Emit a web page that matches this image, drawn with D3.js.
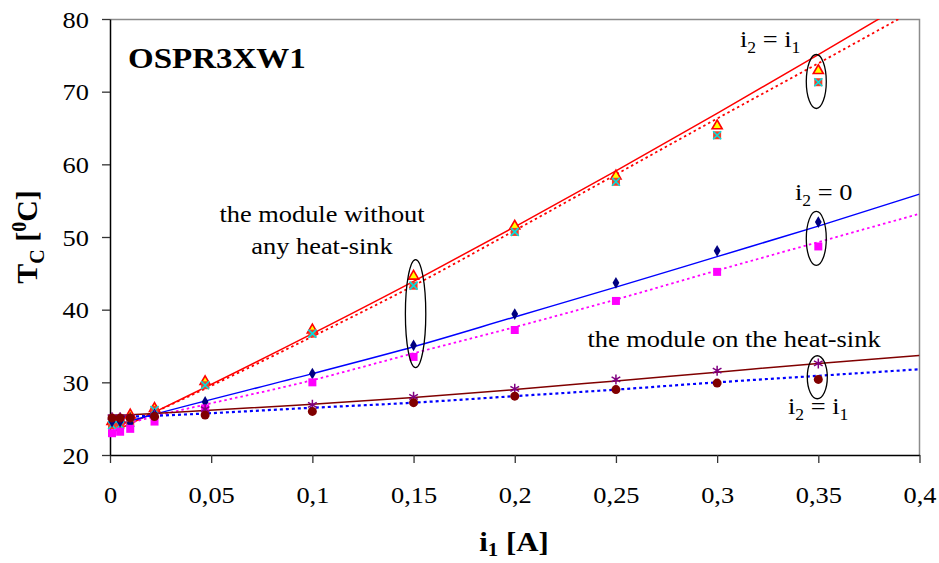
<!DOCTYPE html>
<html>
<head>
<meta charset="utf-8">
<script src="https://cdn.jsdelivr.net/npm/d3@7"></script>
<style>
  body { margin: 0; background: #fff; }
  svg { display: block; }
  text { font-family: "Liberation Serif", "Times New Roman", serif; fill: #000; }
</style>
</head>
<body>
<svg width="939" height="563"></svg>
<script>
// measured current i1 [A]
var current = [0.001, 0.005, 0.01, 0.022, 0.047, 0.1, 0.15, 0.2, 0.25, 0.3, 0.35];

// module without heat-sink, i2 = i1 (two measurements)
var freeEqA = [24.6, 24.8, 25.5, 26.4, 30.1, 37.2, 44.6, 51.5, 58.4, 65.3, 72.9];
var freeEqB = [24.1, 24.1, 24.4, 26.2, 29.6, 36.7, 43.3, 50.7, 57.6, 64.0, 71.3];
// module without heat-sink, i2 = 0
var freeZeroA = [24.6, 24.6, 24.4, 25.6, 27.3, 31.2, 35.1, 39.4, 43.7, 48.1, 52.05];
var freeZeroB = [23.0, 23.2, 23.6, 24.6, 26.4, 30.0, 33.5, 37.2, 41.2, 45.2, 48.7];
// module on the heat-sink, i2 = i1
var sinkEqA = [25.2, 25.2, 25.2, 25.5, 26.3, 26.9, 28.0, 29.1, 30.4, 31.6, 32.6];
var sinkEqB = [25.1, 25.1, 25.1, 25.3, 25.5, 26.0, 27.2, 28.1, 29.0, 29.9, 30.4];

// trend lines
var trendX = [0.001, 0.022, 0.1, 0.15, 0.2, 0.25, 0.3, 0.35, 0.4];
var trendFreeEqA = [23.1, 25.9, 36.7, 43.9, 51.4, 59.1, 67.0, 75.1, 83.3];
var trendFreeEqB = [23.3, 25.9, 36.3, 43.3, 50.9, 58.6, 66.3, 73.9, 81.6];
var trendFreeZeroA = [24.0, 25.6, 31.2, 34.9, 39.0, 43.1, 47.3, 51.5, 55.9];
var trendFreeZeroB = [23.8, 25.3, 30.3, 34.0, 37.6, 41.4, 45.4, 49.3, 53.2];
var trendSinkEqA = [25.4, 25.7, 27.0, 27.9, 29.0, 30.2, 31.4, 32.6, 33.7];
var trendSinkEqB = [25.2, 25.4, 26.5, 27.2, 28.1, 29.0, 30.0, 30.9, 31.8];

var xTicks = [0, 0.05, 0.1, 0.15, 0.2, 0.25, 0.3, 0.35, 0.4];
var xTickLabels = ["0", "0,05", "0,1", "0,15", "0,2", "0,25", "0,3", "0,35", "0,4"];
var yTicks = [20, 30, 40, 50, 60, 70, 80];

var margins = { top: 19, left: 110, right: 20, bottom: 108 };
var svg = d3.select("svg");
var chartWidth = 809.5;
var chartHeight = 436;
var stretch = 1.1; // text in the reference is slightly wider than tall

var xScale = d3.scaleLinear([0, 0.4], [0, chartWidth]);
var yScale = d3.scaleLinear([20, 80], [chartHeight, 0]);

var g = svg.append("g")
  .attr("transform", `translate(${margins.left},${margins.top})`);

g.append("clipPath").attr("id", "plot")
  .append("rect").attr("width", chartWidth).attr("height", chartHeight);

// frame (top and right in grey)
g.append("path")
  .attr("d", `M0,0.5H${chartWidth}V${chartHeight}`)
  .attr("fill", "none").attr("stroke", "#8c8c8c").attr("stroke-width", 1.5);

// axes
var xAxis = g.append("g")
  .attr("transform", `translate(0,${chartHeight})`)
  .call(d3.axisBottom(xScale).tickValues(xTicks).tickSize(8).tickSizeOuter(0)
    .tickFormat(function (d, i) { return xTickLabels[i]; }));
xAxis.select(".domain").attr("stroke-width", 1.5);
xAxis.selectAll(".tick line").attr("stroke", "#333").attr("stroke-width", 1.3);
xAxis.selectAll(".tick text")
  .attr("y", null).attr("dy", null)
  .attr("transform", `translate(0,48) scale(${stretch},1)`)
  .style("font-size", "24px");

var yAxis = g.append("g")
  .call(d3.axisLeft(yScale).tickValues(yTicks).tickSize(8).tickSizeOuter(0));
yAxis.select(".domain").attr("stroke-width", 1.5);
yAxis.selectAll(".tick line").attr("stroke", "#333").attr("stroke-width", 1.3);
yAxis.selectAll(".tick text")
  .attr("x", null).attr("dy", "0.34em")
  .attr("transform", `translate(-21,0) scale(${stretch},1)`)
  .style("font-size", "24px");

// trend lines
var line = d3.line()
  .x(function (d) { return xScale(d[0]); })
  .y(function (d) { return yScale(d[1]); })
  .curve(d3.curveMonotoneX);

var trends = [
  { values: trendFreeEqA, color: "#ff0000", dash: null, width: 1.5 },
  { values: trendFreeEqB, color: "#ff0000", dash: "2.5,3", width: 1.8 },
  { values: trendFreeZeroA, color: "#0000ff", dash: null, width: 1.5 },
  { values: trendFreeZeroB, color: "#ff00ff", dash: "2.5,3", width: 1.8 },
  { values: trendSinkEqA, color: "#800000", dash: null, width: 1.5 },
  { values: trendSinkEqB, color: "#0000ff", dash: "3,3", width: 2.2 }
];

var lines = g.append("g").attr("clip-path", "url(#plot)");
lines.selectAll("path").data(trends).join("path")
  .attr("d", function (t) { return line(trendX.map(function (x, i) { return [x, t.values[i]]; })); })
  .attr("fill", "none")
  .attr("stroke", function (t) { return t.color; })
  .attr("stroke-width", function (t) { return t.width; })
  .attr("stroke-dasharray", function (t) { return t.dash; });

// markers
function pts(values) {
  return current.map(function (x, i) { return [x, values[i]]; });
}
function place(d) {
  return `translate(${xScale(d[0])},${yScale(d[1])})`;
}

var marks = g.append("g");

marks.append("g").selectAll("path").data(pts(freeEqA)).join("path")
  .attr("transform", place)
  .attr("d", d3.symbol(d3.symbolTriangle, 44))
  .attr("fill", "#ffff00").attr("stroke", "#ff0000").attr("stroke-width", 1.6);

var sq = marks.append("g").selectAll("g").data(pts(freeEqB)).join("g")
  .attr("transform", place);
sq.append("rect").attr("x", -4).attr("y", -4).attr("width", 8).attr("height", 8)
  .attr("fill", "#f0402a");
sq.append("path").attr("d", "M-4,-4L4,4M-4,4L4,-4")
  .attr("stroke", "#00e0e0").attr("stroke-width", 1.6);

marks.append("g").selectAll("path").data(pts(freeZeroA)).join("path")
  .attr("transform", place)
  .attr("d", d3.symbol(d3.symbolDiamond, 40))
  .attr("fill", "#000080");

marks.append("g").selectAll("path").data(pts(freeZeroB)).join("path")
  .attr("transform", place)
  .attr("d", d3.symbol(d3.symbolSquare, 64))
  .attr("fill", "#ff00ff");

marks.append("g").selectAll("path").data(pts(sinkEqA)).join("path")
  .attr("transform", place)
  .attr("d", d3.symbol(d3.symbolAsterisk, 70))
  .attr("fill", "none").attr("stroke", "#800080").attr("stroke-width", 1.5);

marks.append("g").selectAll("circle").data(pts(sinkEqB)).join("circle")
  .attr("cx", function (d) { return xScale(d[0]); })
  .attr("cy", function (d) { return yScale(d[1]); })
  .attr("r", 4.5)
  .attr("fill", "#800000");

// ellipses round the marked groups
var rings = [
  { x: 0.349, y: 71.4, rx: 10, ry: 27 },
  { x: 0.349, y: 49.8, rx: 10, ry: 27 },
  { x: 0.151, y: 39.45, rx: 10.2, ry: 54 },
  { x: 0.3495, y: 30.7, rx: 10, ry: 21.5 }
];
g.append("g").selectAll("ellipse").data(rings).join("ellipse")
  .attr("cx", function (d) { return xScale(d.x); })
  .attr("cy", function (d) { return yScale(d.y); })
  .attr("rx", function (d) { return d.rx; })
  .attr("ry", function (d) { return d.ry; })
  .attr("fill", "none").attr("stroke", "#000").attr("stroke-width", 1.3);

// texts
function label(x, y, anchor, size, weight) {
  return svg.append("text")
    .attr("transform", `translate(${x},${y}) scale(${stretch},1)`)
    .attr("text-anchor", anchor)
    .style("font-size", size + "px")
    .style("font-weight", weight || "normal");
}
function iEq(x, y, rhs, rhsSub) {
  var t = label(x, y, "start", 24);
  t.append("tspan").text("i");
  t.append("tspan").attr("dy", 6).style("font-size", "16px").text("2");
  t.append("tspan").attr("dy", -6).text(" = " + rhs);
  if (rhsSub) t.append("tspan").attr("dy", 6).style("font-size", "16px").text(rhsSub);
}

label(128, 68, "start", 30, "bold").text("OSPR3XW1");

iEq(740, 47, "i", "1");
iEq(795, 200, "0");
iEq(788, 414, "i", "1");

label(322, 222, "middle", 24).text("the module without");
label(322, 254, "middle", 24).text("any heat-sink");
label(734, 347, "middle", 24).text("the module on the heat-sink");

// axis titles
var xt = label(514, 551, "middle", 28, "bold");
xt.append("tspan").text("i");
xt.append("tspan").attr("dy", 5).style("font-size", "19px").text("1");
xt.append("tspan").attr("dy", -5).text(" [A]");

var yt = svg.append("text")
  .attr("transform", "translate(37,237) rotate(-90)")
  .attr("text-anchor", "middle")
  .style("font-size", "30px").style("font-weight", "bold");
yt.append("tspan").text("T");
yt.append("tspan").attr("dy", 7).style("font-size", "20px").text("C");
yt.append("tspan").attr("dy", -7).text(" [");
yt.append("tspan").attr("dy", -11).style("font-size", "20px").text("0");
yt.append("tspan").attr("dy", 11).text("C]");
</script>
</body>
</html>
